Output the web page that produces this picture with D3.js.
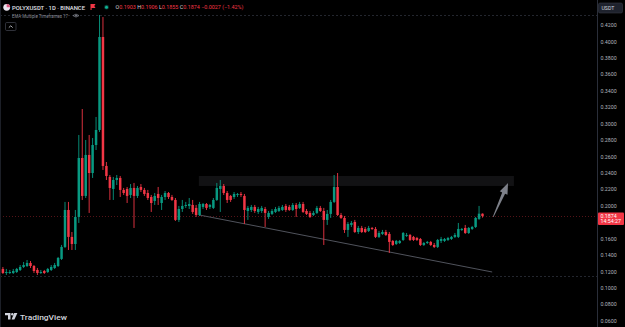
<!DOCTYPE html>
<html><head><meta charset="utf-8">
<script src="https://cdn.jsdelivr.net/npm/d3@7"></script>
<style>
html,body{margin:0;padding:0;background:#000;}
svg{display:block;}
text{font-family:Roboto,"Liberation Sans",Arial,sans-serif;}
</style></head><body>
<svg id="chart" width="625" height="327"></svg>
<script>
// ---- data (daily candles, POLYXUSDT) ----
const openP = [.1230,.1181,.1181,.1181,.1193,.1218,.1254,.1266,.1303,.1266,
.1218,.1181,.1205,.1193,.1218,.1242,.1266,.1352,.1498,.1948,
.1620,.1534,.1863,.2581,.2119,.2618,.2398,.2739,.2922,.4054,
.2484,.2350,.2204,.2313,.2338,.2192,.2204,.2131,.2216,.2119,
.2228,.2192,.2155,.2106,.2058,.2143,.2033,.2106,.2155,.2106,
.2070,.1827,.1960,.1997,.1997,.2009,.1973,.1887,.1985,.2021,
.1985,.1973,.2070,.2204,.2240,.2155,.2119,.2106,.2131,.2143,
.2119,.1936,.1948,.1985,.1924,.1936,.1960,.1863,.1900,.1924,
.1936,.1948,.1997,.1985,.1948,.2009,.1973,.2021,.1936,.1912,
.1887,.1912,.1973,.1936,.1827,.1900,.2046,.2228,.1887,.1851,
.1705,.1766,.1802,.1680,.1729,.1717,.1693,.1729,.1717,.1620,
.1656,.1680,.1656,.1571,.1534,.1546,.1583,.1632,.1644,.1620,
.1607,.1595,.1522,.1546,.1559,.1522,.1498,.1571,.1571,.1583,
.1595,.1620,.1620,.1705,.1729,.1668,.1717,.1741,.1839,.1903];
const highP = [.1254,.1230,.1218,.1230,.1242,.1278,.1315,.1339,.1327,.1278,
.1242,.1218,.1218,.1242,.1278,.1303,.1376,.1522,.2046,.2046,
.1680,.1948,.2861,.3177,.2800,.2861,.2824,.3080,.4322,.4297,
.2532,.2374,.2350,.2374,.2362,.2216,.2228,.2264,.2277,.2240,
.2264,.2216,.2192,.2131,.2155,.2228,.2131,.2179,.2167,.2131,
.2094,.1997,.2070,.2046,.2094,.2070,.2009,.2046,.2033,.2033,
.2021,.2094,.2277,.2313,.2264,.2179,.2131,.2167,.2155,.2167,
.2143,.1997,.2009,.2009,.1985,.1997,.1985,.1936,.1960,.1985,
.1997,.2009,.2021,.2009,.2033,.2033,.2046,.2046,.1960,.1936,
.1936,.1997,.1997,.1973,.1948,.2070,.2374,.2398,.1912,.1875,
.1802,.1814,.1827,.1754,.1754,.1741,.1754,.1741,.1741,.1693,
.1705,.1705,.1680,.1583,.1583,.1583,.1680,.1668,.1656,.1632,
.1620,.1607,.1559,.1571,.1571,.1546,.1595,.1620,.1607,.1620,
.1632,.1668,.1790,.1729,.1766,.1741,.1754,.1863,.1997,.1906];
const lowP = [.1169,.1157,.1169,.1169,.1181,.1205,.1242,.1254,.1242,.1181,
.1157,.1169,.1169,.1181,.1205,.1230,.1254,.1339,.1485,.1461,
.1461,.1461,.1790,.2070,.2094,.1912,.2338,.2678,.2898,.2435,
.2313,.2070,.2070,.2252,.2106,.2131,.2033,.2094,.1729,.2094,
.2167,.2119,.2070,.1924,.2009,.2009,.1948,.2070,.2082,.2058,
.1814,.1802,.1924,.1973,.1960,.1900,.1863,.1875,.1960,.1948,
.1960,.1960,.2058,.1924,.2131,.2033,.2046,.2082,.2106,.2106,
.1778,.1827,.1924,.1912,.1900,.1912,.1741,.1839,.1887,.1912,
.1924,.1936,.1924,.1936,.1936,.1863,.1960,.1912,.1887,.1851,
.1875,.1900,.1924,.1522,.1766,.1851,.2033,.1875,.1839,.1668,
.1620,.1741,.1668,.1656,.1668,.1668,.1680,.1705,.1607,.1607,
.1644,.1632,.1425,.1510,.1522,.1534,.1571,.1620,.1571,.1571,
.1571,.1510,.1510,.1534,.1510,.1485,.1485,.1546,.1559,.1571,
.1583,.1607,.1607,.1693,.1656,.1656,.1705,.1729,.1827,.1855];
const closeP = [.1181,.1193,.1193,.1205,.1230,.1254,.1278,.1303,.1266,.1205,
.1181,.1193,.1181,.1230,.1254,.1278,.1364,.1498,.1948,.1620,
.1534,.1863,.2581,.2119,.2618,.2398,.2739,.2922,.4054,.2484,
.2362,.2216,.2313,.2338,.2192,.2155,.2119,.2216,.2119,.2216,
.2192,.2143,.2094,.2033,.2119,.2094,.2106,.2155,.2106,.2070,
.1827,.1960,.1997,.2009,.2021,.1924,.1887,.2021,.2021,.1973,
.2009,.2070,.2216,.2240,.2155,.2070,.2070,.2143,.2143,.2131,
.1948,.1973,.1985,.1936,.1960,.1973,.1912,.1912,.1936,.1960,
.1973,.1985,.1948,.1948,.2009,.1960,.2021,.1924,.1900,.1863,
.1912,.1973,.1936,.1827,.1900,.2046,.2228,.1887,.1851,.1705,
.1778,.1790,.1680,.1729,.1680,.1680,.1729,.1717,.1620,.1668,
.1680,.1644,.1559,.1522,.1571,.1571,.1668,.1644,.1583,.1583,
.1583,.1522,.1546,.1559,.1522,.1498,.1583,.1595,.1595,.1607,
.1620,.1644,.1717,.1717,.1668,.1729,.1741,.1851,.1903,.1874];

const priceTicks = [0.42,0.40,0.38,0.36,0.34,0.32,0.30,0.28,0.26,0.24,0.22,0.20,0.16,0.14,0.12,0.10,0.08,0.06];
const lastPrice = 0.1874;
const lastTime = "14:54:27";
const rangeLevels = [0.4322, 0.1150];
// drawings (bar index, price)
const zoneIdx = [56.8, 148.1];
const zonePrice = [0.2362, 0.2240];
const trendIdx = [56.9, 141.8];
const trendPrice = [0.1887, 0.1193];
const arrowIdx = [142.1, 146.4];
const arrowPrice = [0.1863, 0.2277];
const symbolTitle = "POLYXUSDT · 1D · BINANCE";
const ohlcLabels = ["O","H","L","C"];
const ohlcValues = ["0.1903","0.1906","0.1855","0.1874"];
const changeText = "−0.0027 (−1.42%)";
const indicatorName = "EMA Multiple Timeframes 17";

// ---- drawing ----
const W = 625, H = 327, plotW = 597;
const UP = "#089981", DOWN = "#f23645";
const svg = d3.select("#chart");
svg.append("rect").attr("width", W).attr("height", H).attr("fill", "#000");

const n = closeP.length;
const x = d3.scaleLinear().domain([0, n - 1]).range([2.9, 482.5]);
const step = x(1) - x(0);
const bw = step * 0.72;
const y = d3.scaleLinear().domain([0.06, 0.42]).range([320.7, 25]);

svg.append("defs").append("clipPath").attr("id", "plotclip")
  .append("rect").attr("x", 0).attr("y", 0).attr("width", plotW).attr("height", H);
const plot = svg.append("g").attr("clip-path", "url(#plotclip)");

// range level lines
plot.selectAll("line.lvl").data(rangeLevels).join("line")
  .attr("class", "lvl")
  .attr("x1", 0).attr("x2", plotW)
  .attr("y1", d => Math.round(y(d)) + 0.5).attr("y2", d => Math.round(y(d)) + 0.5)
  .attr("stroke", "#23262e").attr("stroke-dasharray", "2,2");

// zone rectangle
plot.append("rect")
  .attr("x", x(zoneIdx[0])).attr("width", x(zoneIdx[1]) - x(zoneIdx[0]))
  .attr("y", y(zonePrice[0])).attr("height", y(zonePrice[1]) - y(zonePrice[0]))
  .attr("fill", "rgba(120,123,134,0.15)");

// last price line
plot.append("line")
  .attr("x1", 0).attr("x2", plotW)
  .attr("y1", Math.round(y(lastPrice)) + 0.5).attr("y2", Math.round(y(lastPrice)) + 0.5)
  .attr("stroke", "#f23645").attr("stroke-opacity", 0.35).attr("stroke-dasharray", "1,2");

// trend line
plot.append("line")
  .attr("x1", x(trendIdx[0])).attr("y1", y(trendPrice[0]))
  .attr("x2", x(trendIdx[1])).attr("y2", y(trendPrice[1]))
  .attr("stroke", "#50535c").attr("stroke-width", 1);

// candles
const idx = d3.range(n);
const cg = plot.append("g");
cg.selectAll("line.wick").data(idx).join("line")
  .attr("class", "wick")
  .attr("x1", i => x(i)).attr("x2", i => x(i))
  .attr("y1", i => y(highP[i])).attr("y2", i => y(lowP[i]))
  .attr("stroke", i => closeP[i] >= openP[i] ? UP : DOWN)
  .attr("stroke-width", 0.9);
cg.selectAll("rect.body").data(idx).join("rect")
  .attr("class", "body")
  .attr("x", i => x(i) - bw / 2).attr("width", bw)
  .attr("y", i => y(Math.max(openP[i], closeP[i])))
  .attr("height", i => Math.max(1, Math.abs(y(openP[i]) - y(closeP[i]))))
  .attr("fill", i => closeP[i] >= openP[i] ? UP : DOWN);

// arrow
{
  const bx = x(arrowIdx[0]), by = y(arrowPrice[0]);
  const tx = x(arrowIdx[1]), ty = y(arrowPrice[1]);
  const dx = tx - bx, dy = ty - by, L = Math.hypot(dx, dy);
  const ux = dx / L, uy = dy / L, px = -uy, py = ux;
  const hl = 11, hw = 4.2;
  const hx = tx - ux * hl, hy = ty - uy * hl;
  const pts = [
    [bx + px * 0.4, by + py * 0.4],
    [hx + px * 1.6, hy + py * 1.6],
    [hx + px * hw, hy + py * hw],
    [tx, ty],
    [hx - px * hw, hy - py * hw],
    [hx - px * 1.6, hy - py * 1.6],
    [bx - px * 0.4, by - py * 0.4]
  ];
  plot.append("path").attr("d", d3.line()(pts) + "Z").attr("fill", "#7d8089");
}

// price axis
svg.append("line").attr("x1", plotW + 0.5).attr("x2", plotW + 0.5).attr("y1", 0).attr("y2", H)
  .attr("stroke", "#2a2e39");
svg.append("line").attr("x1", 0.5).attr("x2", 0.5).attr("y1", 0).attr("y2", H)
  .attr("stroke", "#1c1f27");
const axis = svg.append("g").attr("transform", `translate(${plotW + 1},0)`)
  .call(d3.axisRight(y).tickValues(priceTicks).tickFormat(d3.format(".4f")).tickSize(0).tickPadding(2.5));
axis.select(".domain").remove();
axis.selectAll("text").attr("fill", "#b2b5be").attr("font-size", 5.3).attr("font-family", "Roboto, sans-serif");

// last price label
const ly = y(lastPrice);
svg.append("rect").attr("x", plotW + 1).attr("y", ly - 3.6).attr("width", W - plotW - 2).attr("height", 12.6)
  .attr("rx", 1).attr("fill", "#f23645");
svg.append("text").attr("x", plotW + 3.5).attr("y", ly + 1.8).attr("fill", "#fff").attr("font-size", 5.3).text(d3.format(".4f")(lastPrice));
svg.append("text").attr("x", plotW + 3.5).attr("y", ly + 7.4).attr("fill", "#fff").attr("font-size", 5.3).text(lastTime);

// USDT button
svg.append("rect").attr("x", 598.5).attr("y", 3).attr("width", 24).attr("height", 10).attr("rx", 1.5)
  .attr("fill", "#1e222d").attr("stroke", "#363a45").attr("stroke-width", 0.6);
svg.append("text").attr("x", 601.5).attr("y", 10.2).attr("fill", "#d1d4dc").attr("font-size", 5.2).text("USDT");

// header
const hdr = svg.append("g");
hdr.append("circle").attr("cx", 6.7).attr("cy", 7.3).attr("r", 3.4).attr("fill", "#e9e3ee");
hdr.append("path").attr("d", "M6.7,3.9 A3.4,3.4 0 0 1 10.1,7.3 L6.7,7.3 Z").attr("fill", "#d9577f");
hdr.append("text").attr("x", 12).attr("y", 9.6).attr("fill", "#e1e3ea").attr("font-size", 5.9).attr("font-weight", 500)
  .attr("textLength", 73).attr("lengthAdjust", "spacingAndGlyphs").text(symbolTitle);
hdr.append("path").attr("d", "M90.5,4 L95.5,4 L94.3,6 L95.5,8 L91.6,8 L91.6,10 L90.5,10 Z").attr("fill", "#f23645");
hdr.append("circle").attr("cx", 106.5).attr("cy", 7.2).attr("r", 2.4).attr("fill", "#0b3a33");
hdr.append("circle").attr("cx", 106.5).attr("cy", 7.2).attr("r", 1.5).attr("fill", "#0eb394");
const ohlcText = hdr.append("text").attr("x", 115.5).attr("y", 9.4).attr("font-size", 5.4);
ohlcLabels.forEach((lab, k) => {
  ohlcText.append("tspan").attr("fill", "#d1d4dc").text((k ? " " : "") + lab);
  ohlcText.append("tspan").attr("fill", "#f23645").text(ohlcValues[k]);
});
ohlcText.append("tspan").attr("fill", "#f23645").text(" " + changeText);

hdr.append("text").attr("x", 12).attr("y", 17.6).attr("fill", "#868993").attr("font-size", 5)
  .attr("textLength", 56).attr("lengthAdjust", "spacingAndGlyphs").text(indicatorName);
// eye icon
hdr.append("path").attr("d", "M73,15.6 Q76,12.6 79,15.6 Q76,18.6 73,15.6 Z").attr("fill", "none").attr("stroke", "#868993").attr("stroke-width", 0.7);
hdr.append("circle").attr("cx", 76).attr("cy", 15.6).attr("r", 0.9).attr("fill", "#868993");
// collapse button
hdr.append("rect").attr("x", 5.5).attr("y", 22.5).attr("width", 10.5).attr("height", 8).attr("rx", 1.2)
  .attr("fill", "#000").attr("stroke", "#434651").attr("stroke-width", 0.7);
hdr.append("path").attr("d", "M8.8,27.6 L10.75,25.8 L12.7,27.6").attr("fill", "none").attr("stroke", "#d1d4dc").attr("stroke-width", 0.8);

// TradingView logo
const lg = svg.append("g").attr("fill", "#d1d4dc");
lg.append("path").attr("d", "M5,313 L10.5,313 L10.5,319.6 L8,319.6 L8,315.3 L5,315.3 Z");
lg.append("circle").attr("cx", 12.3).attr("cy", 314.3).attr("r", 1.2);
lg.append("path").attr("d", "M14.2,313 L17.4,313 L14.4,319.6 L11.6,319.6 Z");
svg.append("text").attr("x", 20).attr("y", 319.5).attr("fill", "#d1d4dc").attr("font-size", 7.6).attr("font-weight", 500)
  .attr("textLength", 47).attr("lengthAdjust", "spacingAndGlyphs").text("TradingView");
</script>
</body></html>
